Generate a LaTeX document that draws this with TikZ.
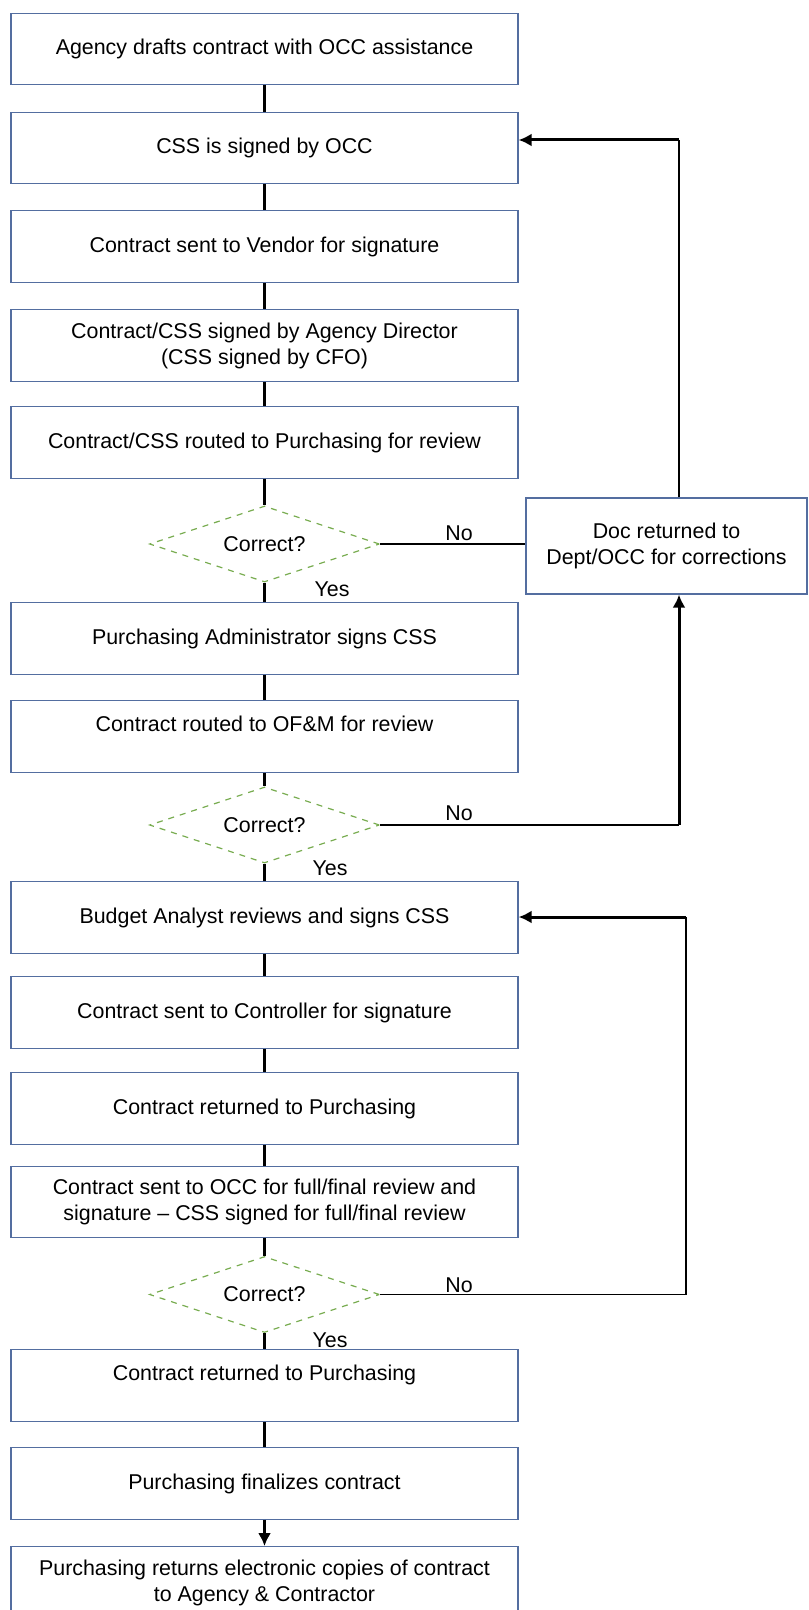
\documentclass[tikz,border=0pt]{standalone}
\usepackage{fontspec}
\setmainfont{Liberation Sans}
\usetikzlibrary{shapes.geometric,arrows.meta,positioning}
\definecolor{boxblue}{RGB}{84,110,160}
\definecolor{checkgreen}{RGB}{120,172,80}

\begin{document}
\begin{tikzpicture}[x=0.5pt,y=0.5pt,>={Latex[length=6.5pt,width=6.5pt]},font=\fontsize{10.7}{13}\selectfont]
        \tikzstyle{task box}=[draw=boxblue,line width=0.6pt,minimum width=253.5pt,minimum height=35.8pt,align=center,inner sep=2pt]
        \tikzstyle{check}=[diamond,aspect=3,draw=checkgreen,dashed,line width=0.6pt,minimum width=115pt,minimum height=38pt,inner sep=0pt]
        \tikzstyle{link}=[line width=1.6pt]
        \tikzstyle{back}=[line width=0.8pt]
        \tikzstyle{back arrow}=[line width=1.5pt,->]
        \tikzstyle{annot}=[inner sep=1pt]

        \useasboundingbox (0,0) rectangle (808,-1610);

        % Draw the steps of the main column
        \foreach \name / \y / \txt in {b1/49/{Agency drafts contract with OCC assistance},
                b2/148/{CSS is signed by OCC},
                b3/246.5/{Contract sent to Vendor for signature},
                b4/345.5/{Contract/CSS signed by Agency Director\\(CSS signed by CFO)},
                b5/442.5/{Contract/CSS routed to Purchasing for review},
                b6/638.5/{Purchasing Administrator signs CSS},
                b7/736.5/{Contract routed to OF\&M for review\\\mbox{}},
                b8/917.5/{Budget Analyst reviews and signs CSS},
                b9/1012.5/{Contract sent to Controller for signature},
                b10/1108.5/{Contract returned to Purchasing},
                b11/1202/{Contract sent to OCC for full/final review and\\signature – CSS signed for full/final review},
                b12/1385.5/{Contract returned to Purchasing\\\mbox{}},
                b13/1483.5/{Purchasing finalizes contract},
                b14/1582.5/{Purchasing returns electronic copies of contract\\to Agency \& Contractor}}
            \node[task box] (\name) at (264.5,-\y) {\txt};

        % Draw the checks
        \foreach \name / \y in {d1/544,d2/825,d3/1294.5}
            \node[check] (\name) at (264.5,-\y) {Correct?};

        % Draw the box for returned documents
        \node[task box,minimum width=140.5pt,minimum height=48pt] (r) at (666.5,-546) {Doc returned to\\Dept/OCC for corrections};

        % Connect the main column
        \foreach \source / \dest in {b1/b2,b2/b3,b3/b4,b4/b5,b5/d1,d1/b6,b6/b7,b7/d2,d2/b8,b8/b9,b9/b10,b10/b11,b11/d3,d3/b12,b12/b13}
            \draw[link] (\source) -- (\dest);
        \draw[link,->] (b13) -- (b14);

        % Return paths
        \coordinate (c1) at (679,-140);
        \coordinate (c2) at (d2.east -| c1);
        \coordinate (c3) at (686,-917);
        \draw[back] (d1.east) -- (r.west |- d1.east);
        \draw[back] (r.north -| c1) -- (c1);
        \draw[back arrow] (c1) -- (c1 -| b2.east);
        \draw[back] (d2.east) -- (c2);
        \draw[back arrow] (c2) -- (r.south -| c2);
        \draw[back] (d3.east) -- (d3.east -| c3) -- (c3);
        \draw[back arrow] (c3) -- (c3 -| b8.east);

        % Annotate the checks
        \node[annot] (no1) at (459,-533) {No};
        \node[annot] (no2) at (459,-813) {No};
        \node[annot] (no3) at (459,-1285) {No};
        \node[annot] (yes1) at (332,-589) {Yes};
        \node[annot] (yes2) at (330,-868) {Yes};
        \node[annot] (yes3) at (330,-1340) {Yes};

\end{tikzpicture}
\end{document}
